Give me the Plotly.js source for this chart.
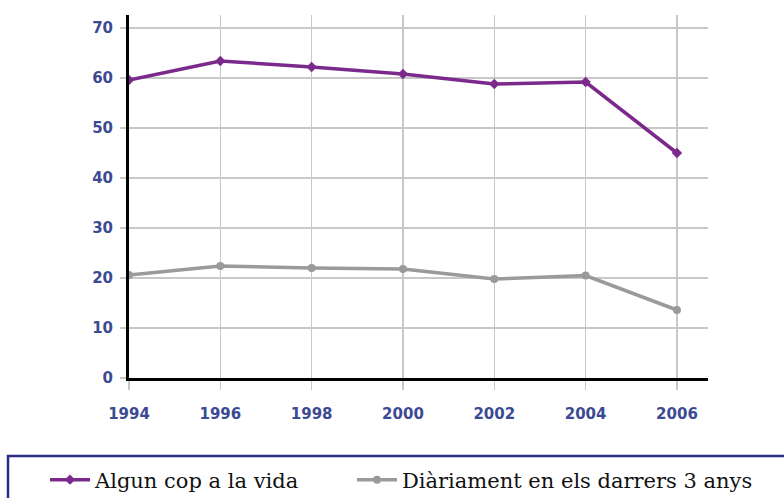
<!DOCTYPE html>
<html>
<head>
<meta charset="utf-8">
<script src="https://cdn.plot.ly/plotly-3.0.1.min.js"></script>
<style>html,body{margin:0;padding:0;background:#fff;}#chart{width:784px;height:498px;}</style>
</head>
<body>
<div id="chart"></div>
<script>
const years = [1994, 1996, 1998, 2000, 2002, 2004, 2006];
const alguncop = [59.6, 63.4, 62.2, 60.8, 58.8, 59.2, 45.0];
const diariament = [20.6, 22.4, 22.0, 21.8, 19.8, 20.5, 13.6];
const seriesNames = ["Algun cop a la vida", "Diàriament en els darrers 3 anys"];
const xTicks = [1994, 1996, 1998, 2000, 2002, 2004, 2006];
const yTicks = [0, 10, 20, 30, 40, 50, 60, 70];

const tickFont = {family: "DejaVu Sans", size: 15, color: "#3b4a92", weight: "bold"};
const legendFont = {family: "DejaVu Serif", size: 21, color: "#111"};

const traces = [
  {x: years, y: alguncop, name: seriesNames[0], type: "scatter", mode: "lines+markers",
   line: {color: "#7b2a8c", width: 3.5}, marker: {symbol: "diamond", size: 8, color: "#7b2a8c"},
   legend: "legend"},
  {x: years, y: diariament, name: seriesNames[1], type: "scatter", mode: "lines+markers",
   line: {color: "#9a9a9a", width: 3.5}, marker: {symbol: "circle", size: 8, color: "#9a9a9a"},
   legend: "legend2"}
];

const legendY = (378 - 480) / 363;
const layout = {
  width: 784, height: 498,
  margin: {l: 129, r: 76, t: 15, b: 120, autoexpand: false},
  paper_bgcolor: "#fff", plot_bgcolor: "#fff",
  showlegend: true,
  xaxis: {range: [1994, 2006.68], tickvals: xTicks, ticktext: xTicks.map(String),
    showgrid: true, gridcolor: "#c8c8c8", gridwidth: 1.5, zeroline: false,
    showline: true, linecolor: "#000", linewidth: 3,
    ticks: "outside", ticklen: 9, tickcolor: "#c8c8c8", tickwidth: 1.5,
    ticklabelstandoff: 11, tickfont: tickFont, automargin: false},
  yaxis: {range: [0, 72.6], tickvals: yTicks, ticktext: yTicks.map(String),
    showgrid: true, gridcolor: "#c8c8c8", gridwidth: 1.5, zeroline: false,
    showline: true, linecolor: "#000", linewidth: 3,
    ticks: "outside", ticklen: 6, tickcolor: "#c8c8c8", tickwidth: 1.5,
    ticklabelstandoff: 4, tickfont: tickFont, automargin: false},
  legend: {orientation: "h", x: (45 - 129) / 579, xanchor: "left",
    y: legendY, yanchor: "middle", font: legendFont,
    bgcolor: "rgba(0,0,0,0)", borderwidth: 0, itemwidth: 40},
  legend2: {orientation: "h", x: (352 - 129) / 579, xanchor: "left",
    y: legendY, yanchor: "middle", font: legendFont,
    bgcolor: "rgba(0,0,0,0)", borderwidth: 0, itemwidth: 40},
  shapes: [{type: "rect", xref: "paper", yref: "paper",
    x0: (8 - 129) / 579, x1: 1.3, y0: (378 - 456) / 363, y1: -0.6,
    line: {color: "#2b2b88", width: 2.5}, fillcolor: "rgba(0,0,0,0)", layer: "below"}]
};

Plotly.newPlot("chart", traces, layout, {displayModeBar: false, staticPlot: true});
</script>
</body>
</html>
